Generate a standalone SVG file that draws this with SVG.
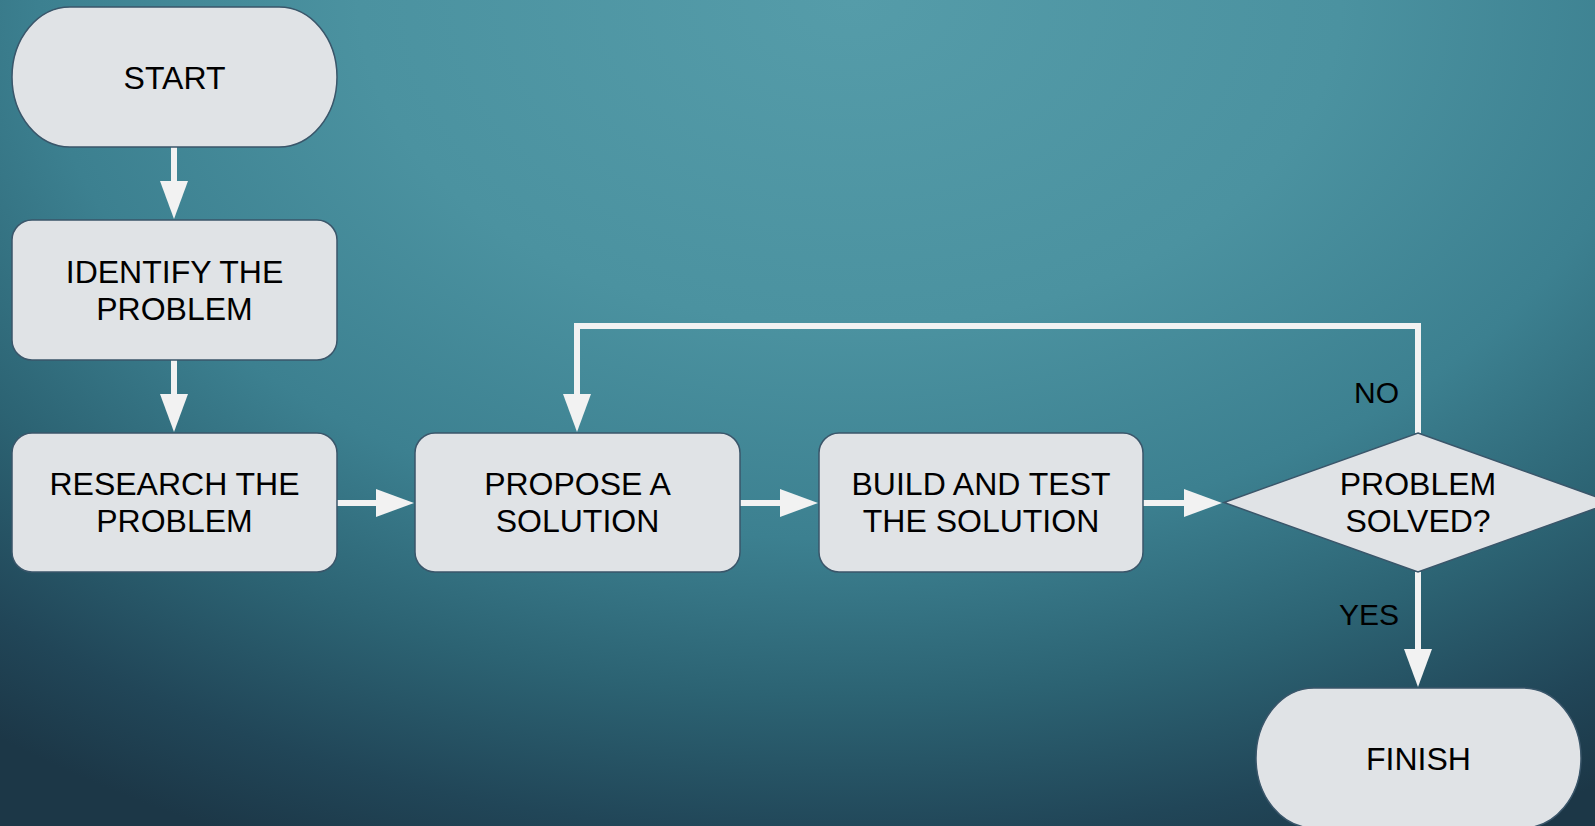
<svg xmlns="http://www.w3.org/2000/svg" width="1595" height="826" viewBox="0 0 1595 826">
<defs>
<radialGradient id="bg" gradientUnits="userSpaceOnUse" cx="0" cy="0" r="1" gradientTransform="translate(850,0) scale(1400,930)">
<stop offset="0" stop-color="#559ca9"/>
<stop offset="0.35" stop-color="#4b92a0"/>
<stop offset="0.58" stop-color="#3c8090"/>
<stop offset="0.75" stop-color="#2c6373"/>
<stop offset="0.9" stop-color="#214658"/>
<stop offset="1" stop-color="#1c3747"/>
</radialGradient>
<marker id="ah" markerUnits="userSpaceOnUse" markerWidth="40" markerHeight="30" refX="0" refY="14" orient="auto">
<path d="M0,0 L38,14 L0,28 Z" fill="#f2f2f2"/>
</marker>
<style>
.node{fill:#e0e3e6;stroke:#3a566a;stroke-width:1.5}
.t{font-family:"Liberation Sans",Arial,sans-serif;font-size:32px;fill:#000;text-anchor:middle}
.lbl{font-family:"Liberation Sans",Arial,sans-serif;font-size:30px;fill:#000;text-anchor:end}
.c{fill:none;stroke:#f2f2f2;stroke-width:6}
</style>
</defs>
<rect width="1595" height="826" fill="url(#bg)"/>
<g id="connectors">
<path class="c" d="M174,147 V181" marker-end="url(#ah)"/>
<path class="c" d="M174,360 V394" marker-end="url(#ah)"/>
<path class="c" d="M337,503 H376" marker-end="url(#ah)"/>
<path class="c" d="M740,503 H780" marker-end="url(#ah)"/>
<path class="c" d="M1143,503 H1184" marker-end="url(#ah)"/>
<path class="c" d="M1418,433 V326 H577 V394" marker-end="url(#ah)"/>
<path class="c" d="M1418,572 V649" marker-end="url(#ah)"/>
<text class="lbl" x="1399" y="403">NO</text>
<text class="lbl" x="1399" y="625">YES</text>
</g>
<g id="start">
<rect class="node" x="12" y="7" width="325" height="140" rx="58" ry="70"/>
<text class="t" x="174.5" y="89">START</text>
</g>
<g id="identify">
<rect class="node" x="12" y="220" width="325" height="140" rx="20"/>
<text class="t" x="174.5" y="282.5">IDENTIFY THE</text>
<text class="t" x="174.5" y="319.5">PROBLEM</text>
</g>
<g id="research">
<rect class="node" x="12" y="433" width="325" height="139" rx="20"/>
<text class="t" x="174.5" y="495">RESEARCH THE</text>
<text class="t" x="174.5" y="532">PROBLEM</text>
</g>
<g id="propose">
<rect class="node" x="415" y="433" width="325" height="139" rx="20"/>
<text class="t" x="577.5" y="495">PROPOSE A</text>
<text class="t" x="577.5" y="532">SOLUTION</text>
</g>
<g id="build">
<rect class="node" x="819" y="433" width="324" height="139" rx="20"/>
<text class="t" x="981" y="495">BUILD AND TEST</text>
<text class="t" x="981" y="532">THE SOLUTION</text>
</g>
<g id="decision">
<polygon class="node" points="1418,433 1612,502.5 1418,572 1224,502.5"/>
<text class="t" x="1418" y="495">PROBLEM</text>
<text class="t" x="1418" y="532">SOLVED?</text>
</g>
<g id="finish">
<rect class="node" x="1256" y="688" width="325" height="140" rx="58" ry="70"/>
<text class="t" x="1418.5" y="770">FINISH</text>
</g>
</svg>
